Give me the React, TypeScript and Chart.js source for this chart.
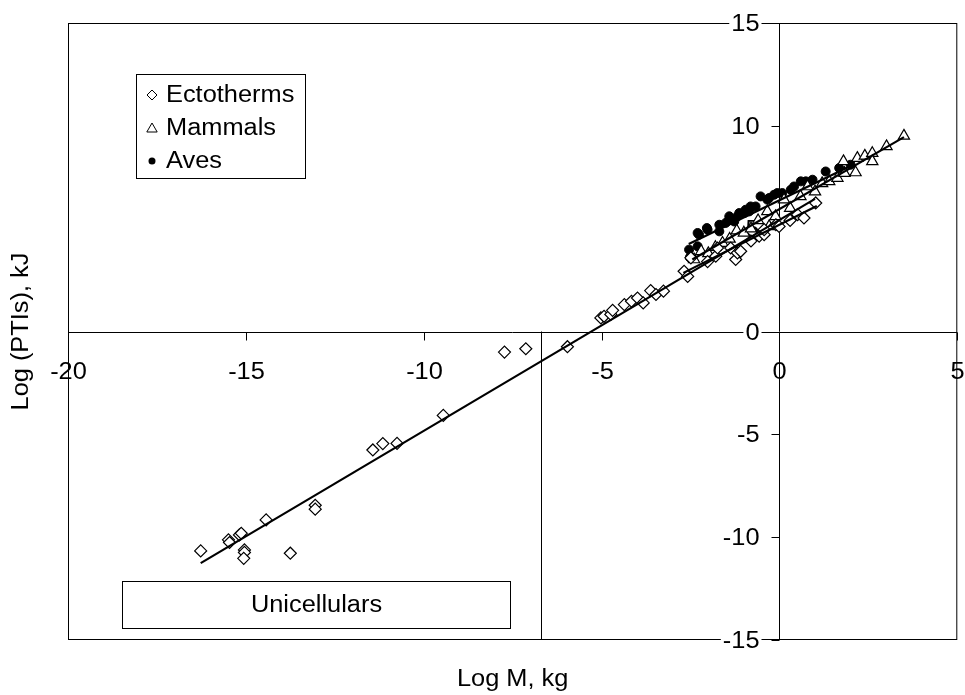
import React, { useEffect, useRef } from 'react';
import { Chart, registerables } from 'chart.js';

Chart.register(...registerables);

// ---------- data ----------
const ectoX = [
  -16.27, -15.49, -15.46, -15.18, -15.13, -15.04, -15.04, -15.06, -14.43, -13.75, -13.05, -13.05,
  -11.43, -11.15, -10.75, -9.45, -7.73, -7.13, -5.96,
  -5.02, -4.93, -4.74, -4.69, -4.36, -4.16, -3.99, -3.83, -3.62, -3.47, -3.26,
  -2.68, -2.58, -2.49, -2.02, -1.79, -1.74, -1.37, -1.23, -1.18, -1.09, -0.8, -0.57, -0.43, -0.43,
  -0.10, -0.01, 0.3, 0.51, 0.69, 1.02,
];
const ectoY = [
  -10.67, -10.13, -10.26, -9.89, -9.81, -10.62, -10.74, -11.03, -9.16, -10.78, -8.45, -8.64,
  -5.76, -5.45, -5.44, -4.08, -1.0, -0.84, -0.74,
  0.66, 0.74, 0.83, 1.03, 1.31, 1.47, 1.63, 1.39, 1.99, 1.80, 1.96,
  2.93, 2.68, 3.58, 3.4, 3.66, 4.06, 4.06, 3.50, 3.82, 3.90, 4.4, 4.63, 4.71, 4.95,
  5.19, 5.11, 5.4, 5.68, 5.52, 6.25,
];

const mammX = [
  -2.4, -2.2, -2.0, -1.8, -1.6, -1.4, -1.2, -1.0, -0.8, -0.6, -0.34, -0.29, -0.11, 0.13, 0.3,
  0.59, 0.79, 1.0, 1.2, 1.40, 1.63, 1.80, 1.83, 2.14, 2.19, 2.40, 2.61, 2.61, 3.01, 3.50,
];
const mammY = [
  3.5, 3.9, 3.8, 4.1, 4.3, 4.5, 4.9, 4.8, 5.0, 5.4, 5.84, 5.11, 5.6, 6.41, 6.0,
  6.57, 7.05, 6.8, 7.2, 7.30, 7.46, 8.27, 7.70, 7.73, 8.43, 8.54, 8.67, 8.27, 9.0, 9.51,
];

const avesX = [
  -2.54, -2.52, -2.30, -2.30, -2.26, -2.04, -2.02, -1.69, -1.69, -1.51, -1.41, -1.41, -1.27,
  -1.18, -1.13, -0.99, -0.95, -0.85, -0.81, -0.67, -0.53, -0.34, -0.29, -0.15, -0.06, 0.08,
  0.32, 0.41, 0.60, 0.74, 0.93, 1.30, 1.68, 2.0,
];
const avesY = [
  3.98, 3.6, 4.14, 4.79, 4.71, 5.03, 4.95, 4.87, 5.19, 5.28, 5.44, 5.60, 5.35,
  5.60, 5.76, 5.76, 5.92, 5.84, 6.08, 6.08, 6.57, 6.41, 6.49, 6.65, 6.73, 6.73,
  6.89, 7.05, 7.30, 7.30, 7.38, 7.78, 7.95, 8.11,
];

// regression line end points
const fitAllX = [-16.27, 1.0];
const fitAllY = [-11.26, 6.45];
const fitEctoX = [-2.7, 1.05];
const fitEctoY = [2.85, 6.1];
const fitMammX = [-2.45, 3.5];
const fitMammY = [3.5, 9.45];
const fitAvesX = [-2.55, 2.0];
const fitAvesY = [4.25, 8.05];

// divider (vertical) line and the "Unicellulars" box, in data units
const dividerX = [-6.7, -6.7];
const dividerY = [0, -15];
const boxX = [-18.47, -7.57];
const boxY = [-12.15, -14.44];

const xTicks = [-20, -15, -10, -5, 0, 5];
const yTicks = [-15, -10, -5, 0, 5, 10, 15];
const xTitle = 'Log M, kg';
const yTitle = 'Log (PTIs), kJ';
const legendLabels = ['Ectotherms', 'Mammals', 'Aves'];
const boxLabel = 'Unicellulars';

const FONT = "23.5px 'Liberation Sans', Arial, sans-serif";
const SX = 1.08;

const toPts = (xs: number[], ys: number[]) => xs.map((x, i) => ({ x, y: ys[i] }));

function text(ctx: CanvasRenderingContext2D, s: string, x: number, y: number, align: CanvasTextAlign) {
  ctx.save();
  ctx.translate(x, y);
  ctx.scale(SX, 1);
  ctx.textAlign = align;
  ctx.fillText(s, 0, 0);
  ctx.restore();
}

function diamond(ctx: CanvasRenderingContext2D, x: number, y: number, r: number) {
  ctx.beginPath();
  ctx.moveTo(x - r, y);
  ctx.lineTo(x, y - r);
  ctx.lineTo(x + r, y);
  ctx.lineTo(x, y + r);
  ctx.closePath();
  ctx.fillStyle = '#fff';
  ctx.fill();
  ctx.stroke();
}
function triangle(ctx: CanvasRenderingContext2D, x: number, y: number, r: number) {
  ctx.beginPath();
  ctx.moveTo(x, y - r);
  ctx.lineTo(x + r * 0.866, y + r / 2);
  ctx.lineTo(x - r * 0.866, y + r / 2);
  ctx.closePath();
  ctx.fillStyle = '#fff';
  ctx.fill();
  ctx.stroke();
}
function dot(ctx: CanvasRenderingContext2D, x: number, y: number, r: number) {
  ctx.beginPath();
  ctx.arc(x, y, r, 0, Math.PI * 2);
  ctx.fillStyle = '#000';
  ctx.fill();
}

const axesPlugin = {
  id: 'excelAxes',
  beforeDatasetsDraw(chart: any) {
    const { ctx, chartArea: a, scales } = chart;
    const xs = scales.x;
    const ys = scales.y;
    ctx.save();
    ctx.strokeStyle = '#000';
    ctx.lineWidth = 1;
    // plot border
    ctx.strokeRect(a.left + 0.5, a.top + 0.5, a.right - a.left - 1, a.bottom - a.top - 1);
    const y0 = Math.round(ys.getPixelForValue(0)) + 0.5;
    const x0 = Math.round(xs.getPixelForValue(0)) + 0.5;

    // divider line
    const dvx = Math.round(xs.getPixelForValue(dividerX[0])) + 0.5;
    ctx.beginPath();
    ctx.moveTo(dvx, ys.getPixelForValue(dividerY[0]));
    ctx.lineTo(dvx, ys.getPixelForValue(dividerY[1]));
    ctx.stroke();

    // axes lines
    ctx.beginPath();
    ctx.moveTo(a.left, y0);
    ctx.lineTo(a.right, y0);
    ctx.moveTo(x0, a.top);
    ctx.lineTo(x0, a.bottom);
    ctx.stroke();

    ctx.font = FONT;
    ctx.fillStyle = '#000';
    // x ticks
    ctx.textBaseline = 'alphabetic';
    xTicks.forEach((v) => {
      const px = Math.round(xs.getPixelForValue(v)) + 0.5;
      ctx.beginPath();
      ctx.moveTo(px, y0);
      ctx.lineTo(px, y0 + 8);
      ctx.stroke();
      text(ctx, String(v), px, y0 + 46, 'center');
    });
    // y ticks
    ctx.textBaseline = 'middle';
    yTicks.forEach((v) => {
      const py = Math.round(ys.getPixelForValue(v)) + 0.5;
      const label = String(v);
      const w = ctx.measureText(label).width * SX;
      ctx.fillStyle = '#fff';
      ctx.fillRect(x0 - 20 - w - 2, py - 9, w + 4, 18);
      ctx.fillStyle = '#000';
      text(ctx, label, x0 - 20, py + 1, 'right');
      ctx.beginPath();
      ctx.moveTo(x0 - 8, py);
      ctx.lineTo(x0, py);
      ctx.stroke();
    });

    // axis titles
    ctx.textBaseline = 'alphabetic';
    text(ctx, xTitle, (a.left + a.right) / 2, 686, 'center');
    ctx.save();
    ctx.translate(28, (a.top + a.bottom) / 2);
    ctx.rotate(-Math.PI / 2);
    text(ctx, yTitle, 0, 0, 'center');
    ctx.restore();

    // Unicellulars box
    const bx1 = Math.round(xs.getPixelForValue(boxX[0])) + 0.5;
    const bx2 = Math.round(xs.getPixelForValue(boxX[1])) + 0.5;
    const by1 = Math.round(ys.getPixelForValue(boxY[0])) + 0.5;
    const by2 = Math.round(ys.getPixelForValue(boxY[1])) + 0.5;
    ctx.strokeRect(bx1, by1, bx2 - bx1, by2 - by1);
    ctx.textBaseline = 'middle';
    text(ctx, boxLabel, (bx1 + bx2) / 2, (by1 + by2) / 2 + 1, 'center');
    ctx.restore();
  },
  afterDraw(chart: any) {
    const { ctx, chartArea: a } = chart;
    ctx.save();
    // legend box
    const lx = a.left + 68;
    const ly = a.top + 51;
    const lw = 169;
    const lh = 104;
    ctx.fillStyle = '#fff';
    ctx.fillRect(lx, ly, lw, lh);
    ctx.strokeStyle = '#000';
    ctx.lineWidth = 1;
    ctx.strokeRect(lx + 0.5, ly + 0.5, lw, lh);
    ctx.font = FONT;
    ctx.textBaseline = 'middle';
    const rowY = [ly + 21, ly + 54, ly + 87];
    const mx = lx + 16;
    ctx.lineWidth = 1;
    diamond(ctx, mx, rowY[0], 5);
    triangle(ctx, mx, rowY[1] + 1, 6);
    dot(ctx, mx, rowY[2], 3.5);
    ctx.fillStyle = '#000';
    legendLabels.forEach((t, i) => text(ctx, t, lx + 30, rowY[i] + 1, 'left'));
    ctx.restore();
  },
};

export default function App() {
  const ref = useRef<HTMLCanvasElement | null>(null);
  useEffect(() => {
    if (!ref.current) return;
    const lineDs = (xs: number[], ys: number[]) => ({
      type: 'scatter' as const,
      data: toPts(xs, ys),
      showLine: true,
      borderColor: '#000',
      borderWidth: 2.2,
      pointRadius: 0,
      fill: false,
      order: 0,
    });
    const chart = new Chart(ref.current, {
      type: 'scatter',
      data: {
        datasets: [
          {
            label: legendLabels[0],
            data: toPts(ectoX, ectoY),
            pointStyle: 'rectRot',
            pointRadius: 6,
            backgroundColor: '#fff',
            borderColor: '#000',
            borderWidth: 1.2,
            order: 1,
          },
          {
            label: legendLabels[1],
            data: toPts(mammX, mammY),
            pointStyle: 'triangle',
            pointRadius: 6.5,
            backgroundColor: '#fff',
            borderColor: '#000',
            borderWidth: 1.2,
            order: 2,
          },
          {
            label: legendLabels[2],
            data: toPts(avesX, avesY),
            pointStyle: 'circle',
            pointRadius: 4.5,
            backgroundColor: '#000',
            borderColor: '#000',
            borderWidth: 1,
            order: 3,
          },
          lineDs(fitAllX, fitAllY),
          lineDs(fitEctoX, fitEctoY),
          lineDs(fitMammX, fitMammY),
          lineDs(fitAvesX, fitAvesY),
        ] as any,
      },
      options: {
        responsive: false,
        animation: false,
        layout: { padding: { left: 68, top: 23, right: 5, bottom: 55 } },
        scales: {
          x: { type: 'linear', min: -20, max: 5, display: false },
          y: { type: 'linear', min: -15, max: 15, display: false },
        },
        plugins: {
          legend: { display: false },
          tooltip: { enabled: false },
        },
      },
      plugins: [axesPlugin],
    });
    return () => chart.destroy();
  }, []);
  return (
    <div style={{ position: 'fixed', left: 0, top: 0, width: 965, height: 695, background: '#fff' }}>
      <canvas ref={ref} width={965} height={695} style={{ width: 965, height: 695 }} />
    </div>
  );
}
